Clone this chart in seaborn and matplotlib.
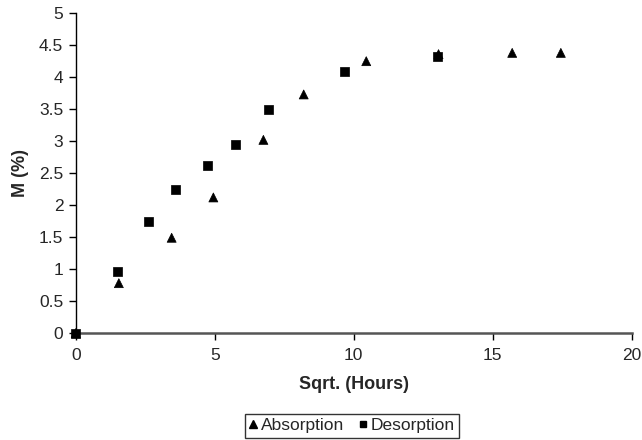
import pandas as pd
import numpy as np
import seaborn as sns
import matplotlib.pyplot as plt

# DATOS
abs_x = [0, 1.55, 3.45, 4.95, 6.75, 8.2, 10.45, 13.05, 15.7, 17.45]
abs_y = [0, 0.78, 1.49, 2.12, 3.02, 3.73, 4.25, 4.36, 4.38, 4.38]
des_x = [0, 1.5, 2.6, 3.6, 4.75, 5.75, 6.95, 9.65, 13.0]
des_y = [0, 0.96, 1.74, 2.24, 2.62, 2.95, 3.49, 4.09, 4.33]

df = pd.concat([
    pd.DataFrame({'x': abs_x, 'y': abs_y, 'serie': 'Absorption'}),
    pd.DataFrame({'x': des_x, 'y': des_y, 'serie': 'Desorption'}),
])

sns.set_style('white')
plt.rcParams['font.family'] = ['Liberation Sans', 'DejaVu Sans']

fig = plt.figure(figsize=(6.42, 4.40), dpi=100)
ax = fig.add_axes([0.118, 0.243, 0.866, 0.727])

sns.scatterplot(data=df, x='x', y='y', style='serie', hue='serie',
                markers={'Absorption': '^', 'Desorption': 's'},
                palette={'Absorption': 'black', 'Desorption': 'black'},
                s=42, edgecolor='black', linewidth=0.5, ax=ax, legend=False,
                clip_on=False, zorder=5)

ax.set_xlim(0, 20)
ax.set_ylim(0, 5)
ax.set_xticks(np.arange(0, 21, 5))
ax.set_yticks(np.arange(0, 5.01, 0.5))
ax.set_yticklabels(['0', '0.5', '1', '1.5', '2', '2.5', '3', '3.5', '4', '4.5', '5'])
ax.tick_params(axis='both', direction='out', length=5, width=1, color='black',
               labelsize=12.5, bottom=True, left=True)
ax.tick_params(axis='x', pad=6)
ax.tick_params(axis='y', pad=4)
for side in ['top', 'right']:
    ax.spines[side].set_visible(False)
ax.spines['left'].set_color('black')
ax.spines['left'].set_linewidth(1)
ax.spines['bottom'].set_color('#555555')
ax.spines['bottom'].set_linewidth(1.8)

ax.set_xlabel('Sqrt. (Hours)', fontsize=13, fontweight='bold', labelpad=9)
ax.set_ylabel('M (%)', fontsize=13, fontweight='bold', labelpad=7)

# LEYENDA ABAJO CON CAJA
h1 = plt.Line2D([], [], marker='^', color='black', linestyle='', markersize=6)
h2 = plt.Line2D([], [], marker='s', color='black', linestyle='', markersize=5)
leg = fig.legend([h1, h2], ['Absorption', 'Desorption'], loc='center',
                 bbox_to_anchor=(0.548, 0.032), ncol=2, fontsize=12.5,
                 frameon=True, fancybox=False, edgecolor='black',
                 handlelength=0.5, handletextpad=0.2, columnspacing=0.8,
                 borderpad=0.25)
leg.get_frame().set_linewidth(1)

plt.savefig('out.png', dpi=100)
